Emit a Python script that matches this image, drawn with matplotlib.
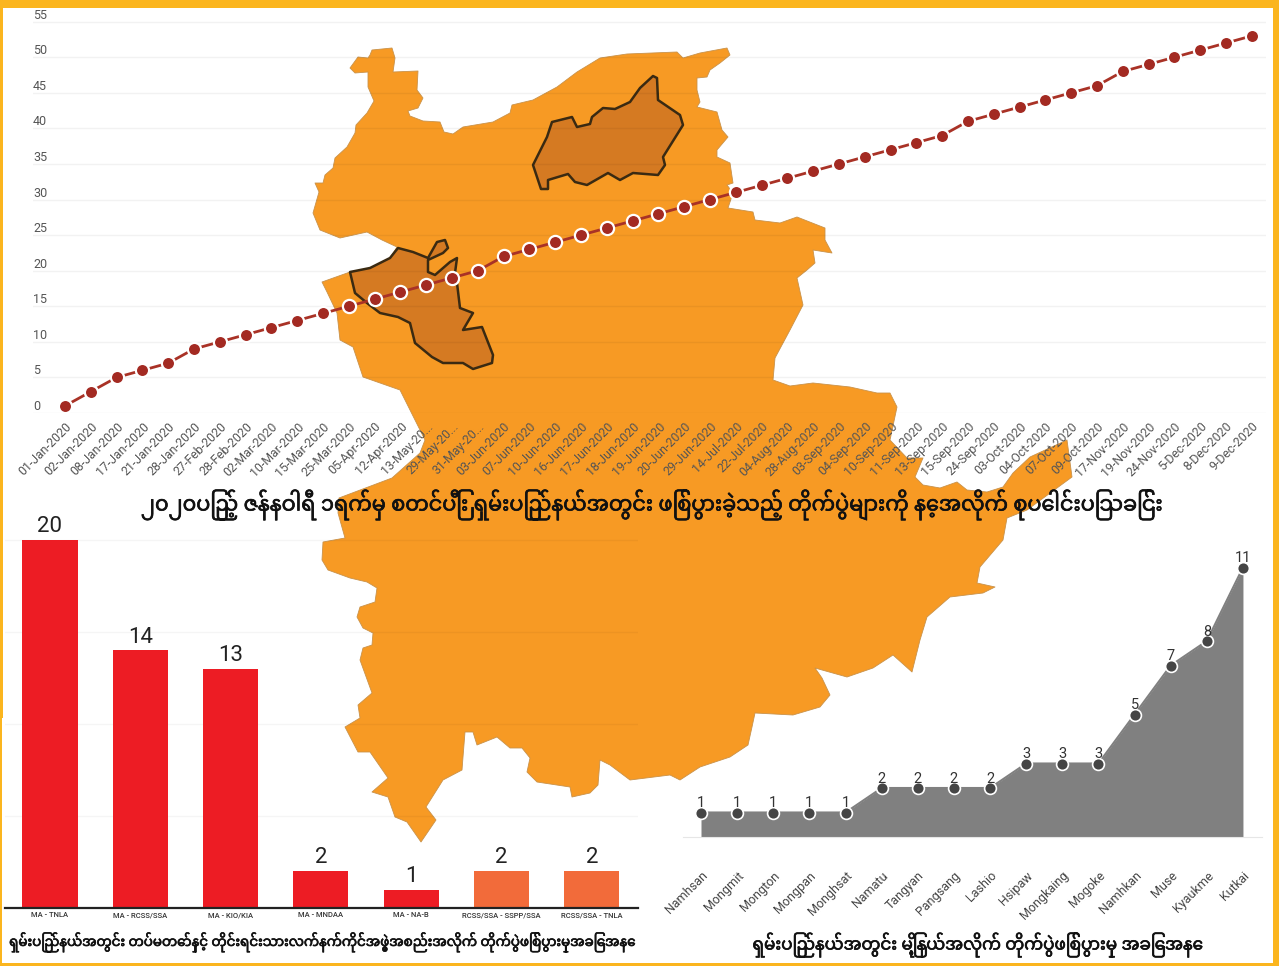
import matplotlib
matplotlib.use('Agg')
import matplotlib.pyplot as plt
import matplotlib.patheffects as pe
from matplotlib.patches import Polygon, Rectangle

W, H = 1279, 966
MM = ['Noto Sans Myanmar', 'DejaVu Sans']
LAT = ['Roboto', 'DejaVu Sans']

dates = ['01-Jan-2020','02-Jan-2020','08-Jan-2020','17-Jan-2020','21-Jan-2020','28-Jan-2020','27-Feb-2020',
         '28-Feb-2020','02-Mar-2020','10-Mar-2020','15-Mar-2020','25-Mar-2020','05-Apr-2020','12-Apr-2020',
         '13-May-20...','29-May-20...','31-May-20...','03-Jun-2020','07-Jun-2020','10-Jun-2020','16-Jun-2020',
         '17-Jun-2020','18-Jun-2020','19-Jun-2020','20-Jun-2020','29-Jun-2020','14-Jul-2020','22-Jul-2020',
         '04-Aug-2020','28-Aug-2020','03-Sep-2020','04-Sep-2020','10-Sep-2020','11-Sep-2020','13-Sep-2020',
         '15-Sep-2020','24-Sep-2020','03-Oct-2020','04-Oct-2020','07-Oct-2020','09-Oct-2020','17-Nov-2020',
         '19-Nov-2020','24-Nov-2020','5-Dec-2020','8-Dec-2020','9-Dec-2020']
cumulative = [1,3,5,6,7,9,10,11,12,13,14,15,16,17,18,19,20,22,23,24,25,26,27,28,29,30,31,32,33,34,35,36,37,38,39,
              41,42,43,44,45,46,48,49,50,51,52,53]
y_ticks = [0,5,10,15,20,25,30,35,40,45,50,55]

groups = ['MA - TNLA','MA - RCSS/SSA','MA - KIO/KIA','MA - MNDAA','MA - NA-B','RCSS/SSA - SSPP/SSA','RCSS/SSA - TNLA']
group_counts = [20,14,13,2,1,2,2]
group_colors = ['#ED1C24']*5 + ['#F26B3A']*2

towns = ['Namhsan','Mongmit','Mongton','Mongpan','Monghsat','Namatu','Tangyan','Pangsang','Lashio','Hsipaw',
         'Mongkaing','Mogoke','Namhkan','Muse','Kyaukme','Kutkai']
town_counts = [1,1,1,1,1,2,2,2,2,3,3,3,5,7,8,11]

title_top = '၂၀၂၀ပြည့် ဇန်နဝါရီ ၁ရက်မှ စတင်ပြီး ရှမ်းပြည်နယ်အတွင်း ဖြစ်ပွားခဲ့သည့် တိုက်ပွဲများကို နေ့အလိုက် စုပေါင်းပြသခြင်း'
title_bar = 'ရှမ်းပြည်နယ်အတွင်း တပ်မတော်နှင့် တိုင်းရင်းသားလက်နက်ကိုင်အဖွဲ့အစည်းအလိုက် တိုက်ပွဲဖြစ်ပွားမှုအခြေအနေ'
title_area = 'ရှမ်းပြည်နယ်အတွင်း မြို့နယ်အလိုက် တိုက်ပွဲဖြစ်ပွားမှု အခြေအနေ'

# Background illustration: outline of the state and two highlighted areas (image pixels)
state_outline = [(372,50),(392,48),(395,58),(393,72),(418,71),(417,90),(423,98),(418,108),(408,111),(410,116),
    (423,121),(440,122),(444,132),(453,134),(463,127),(493,122),(510,113),(512,105),(533,100),(557,87),(577,72),
    (600,58),(627,54),(677,52),(683,58),(700,53),(727,48),(730,55),(720,63),(710,70),(707,77),(697,78),(697,90),
    (700,102),(697,107),(717,112),(722,130),(728,137),(717,150),(717,157),(730,163),(733,183),(727,185),(733,193),
    (728,208),(753,212),(755,220),(780,223),(797,217),(825,228),(825,240),(832,253),(813,250),(815,263),(807,270),
    (797,278),(803,305),(790,330),(775,358),(773,380),(790,386),(813,383),(850,387),(877,393),(890,393),(897,407),
    (890,440),(907,458),(923,458),(915,477),(923,485),(940,488),(957,482),(967,490),(987,492),(1003,487),(1013,473),
    (1030,457),(1067,440),(1072,477),(1027,510),(1007,518),(1003,540),(980,567),(977,583),(995,587),(983,593),
    (950,597),(927,617),(920,640),(912,672),(893,655),(873,668),(847,677),(815,668),(822,678),(830,695),(820,707),
    (793,715),(755,713),(752,727),(748,745),(730,757),(700,767),(680,780),(670,775),(630,780),(610,765),(600,760),
    (598,785),(590,793),(572,797),(570,787),(537,782),(527,772),(530,758),(522,748),(510,748),(497,737),(477,745),
    (473,732),(465,732),(463,757),(462,770),(443,780),(426,807),(436,820),(421,842),(407,822),(395,817),(388,797),
    (372,792),(388,778),(370,752),(358,752),(345,727),(360,718),(358,705),(372,693),(360,660),(363,648),(372,645),
    (373,633),(363,628),(357,617),(360,607),(375,602),(377,588),(367,582),(350,578),(328,570),(322,560),(323,542),
    (345,538),(338,513),(339,498),(392,478),(420,453),(425,440),(410,410),(400,390),(363,377),(353,347),(340,340),
    (337,313),(327,292),(322,282),(350,272),(370,268),(390,258),(397,247),(382,240),(367,232),(340,238),(320,230),
    (313,213),(319,192),(315,183),(323,183),(325,175),(333,168),(335,158),(347,147),(355,133),(356,125),(367,113),
    (374,101),(368,87),(368,72),(355,73),(350,68),(358,57),(368,58),(370,55)]
region_north = [(653,76),(657,78),(658,100),(680,115),(683,125),(663,157),(665,165),(658,175),(633,173),(620,180),
    (608,173),(587,185),(575,182),(568,174),(548,180),(548,189),(541,189),(533,165),(547,137),(552,122),(572,117),
    (577,127),(590,124),(592,117),(603,108),(615,109),(630,102),(640,88)]
region_west = [(350,272),(370,268),(390,258),(398,248),(413,252),(428,258),(437,242),(445,240),(448,248),(443,253),
    (428,260),(428,272),(435,275),(450,262),(457,258),(455,273),(457,283),(460,308),(473,313),(463,330),(482,327),
    (493,355),(492,363),(473,369),(463,363),(443,363),(432,357),(415,343),(410,323),(398,317),(380,313),(367,303),(355,293)]


def axes_px(left, top, right, bottom, z):
    ax = fig.add_axes([left/W, 1-bottom/H, (right-left)/W, (bottom-top)/H], zorder=z)
    ax.patch.set_alpha(0)
    for s in ax.spines.values():
        s.set_visible(False)
    return ax


fig = plt.figure(figsize=(W/100, H/100), dpi=100, facecolor='white')

# ---- background map and page border
bg = axes_px(0, 0, W, H, 0)
bg.set_xlim(0, W); bg.set_ylim(H, 0); bg.axis('off')
bg.add_patch(Polygon(state_outline, closed=True, fc='#F79A24', ec='#C9924A', lw=0.6, joinstyle='round'))
for reg in (region_north, region_west):
    bg.add_patch(Polygon(reg, closed=True, fc='#D57A22', ec='#3A2A12', lw=1.8, joinstyle='round'))
yellow = '#FBB51E'
bg.add_patch(Rectangle((0, 0), W, 8, fc=yellow, ec='none'))
bg.add_patch(Rectangle((0, 0), 3, 718, fc=yellow, ec='none'))
bg.add_patch(Rectangle((0, 718), 1.5, H-718, fc=yellow, ec='none'))
bg.add_patch(Rectangle((1273, 0), 6, H, fc=yellow, ec='none'))
bg.add_patch(Rectangle((0, 963), W, 3, fc=yellow, ec='none'))

# ---- cumulative line chart
ax = axes_px(33, 14, 1266, 413, 2)
xs = list(range(len(dates)))
ax.set_xlim((33-65)/25.8, (1266-65)/25.8)
ax.set_ylim(0, (413-14)/7.115)
ax.set_yticks(y_ticks)
ax.set_yticklabels([str(v) for v in y_ticks], ha='left', va='bottom', family=LAT, fontsize=9, color='#555555')
ax.tick_params(axis='y', length=0, pad=0)
ax.grid(axis='y', color='black', alpha=0.05, lw=1)
ax.set_axisbelow(True)
ax.plot(xs, cumulative, color='#A93226', lw=2.0, marker='o', ms=9.5, mfc='#A32A22', mec='white', mew=1.6,
        clip_on=False, zorder=3)
ax.set_xticks(xs)
ax.set_xticklabels(dates, rotation=45, ha='right', va='top', rotation_mode='anchor', family=LAT, fontsize=8.9,
                   color='#555555')
ax.tick_params(axis='x', length=0, pad=5)

# ---- group bar chart
ax2 = axes_px(5, 520, 638, 908, 2)
bx = list(range(len(groups)))
ax2.set_xlim(-0.498, (638-50)/90.3)
ax2.set_ylim(0, (908-520)/18.4)
ax2.bar(bx, group_counts, width=0.61, color=group_colors, zorder=2)
for x, v in zip(bx, group_counts):
    ax2.annotate(str(v), (x, v), xytext=(0, 2), textcoords='offset points', ha='center', va='bottom',
                 family=LAT, fontsize=16, color='#222222')
ax2.set_yticks([5, 10, 15, 20])
ax2.set_yticklabels([])
ax2.tick_params(axis='y', length=0)
ax2.grid(axis='y', color='black', alpha=0.04, lw=1)
ax2.set_axisbelow(True)
ax2.spines['bottom'].set_visible(True)
ax2.spines['bottom'].set_linewidth(1.6)
ax2.spines['bottom'].set_color('#222222')
ax2.set_xticks(bx)
ax2.set_xticklabels(groups, family=LAT, fontsize=5.5, color='#333333', fontweight='medium')
ax2.tick_params(axis='x', length=0, pad=3.2)

# ---- township area chart
ax3 = axes_px(683, 540, 1262, 837, 2)
tx = list(range(len(towns)))
ax3.set_xlim((683-701)/36.13, (1262-701)/36.13)
ax3.set_ylim(0, (837-540)/24.5)
ax3.fill_between(tx, town_counts, 0, color='#808080', lw=0, zorder=2)
ax3.plot(tx, town_counts, color='#808080', lw=1.5, marker='o', ms=8.5, mfc='#454545', mec='white', mew=1.2,
         clip_on=False, zorder=3)
for x, v in zip(tx, town_counts):
    ax3.annotate(str(v), (x, v), xytext=(0, 1.5), textcoords='offset points', ha='center', va='bottom',
                 family=LAT, fontsize=10.5, color='#333333', zorder=4)
ax3.set_yticks([])
ax3.spines['bottom'].set_visible(True)
ax3.spines['bottom'].set_color('#e6e6e6')
ax3.set_xticks(tx)
ax3.set_xticklabels(towns, rotation=45, ha='right', va='top', rotation_mode='anchor', family=LAT, fontsize=9.0,
                    color='#444444')
ax3.tick_params(axis='x', length=0, pad=23)

# ---- captions
thick = [pe.withStroke(linewidth=0.5, foreground='#111111')]
fig.text(652/W, 1-505/H, title_top, family=MM, fontsize=15, ha='center', va='center', color='#111111', zorder=5,
         path_effects=thick)
fig.text(322/W, 1-942/H, title_bar, family=MM, fontsize=9.7, ha='center', va='center', color='#111111', zorder=5,
         path_effects=thick)
fig.text(978/W, 1-945/H, title_area, family=MM, fontsize=12.1, ha='center', va='center', color='#111111', zorder=5,
         path_effects=thick)

fig.savefig('out.png', dpi=100)
